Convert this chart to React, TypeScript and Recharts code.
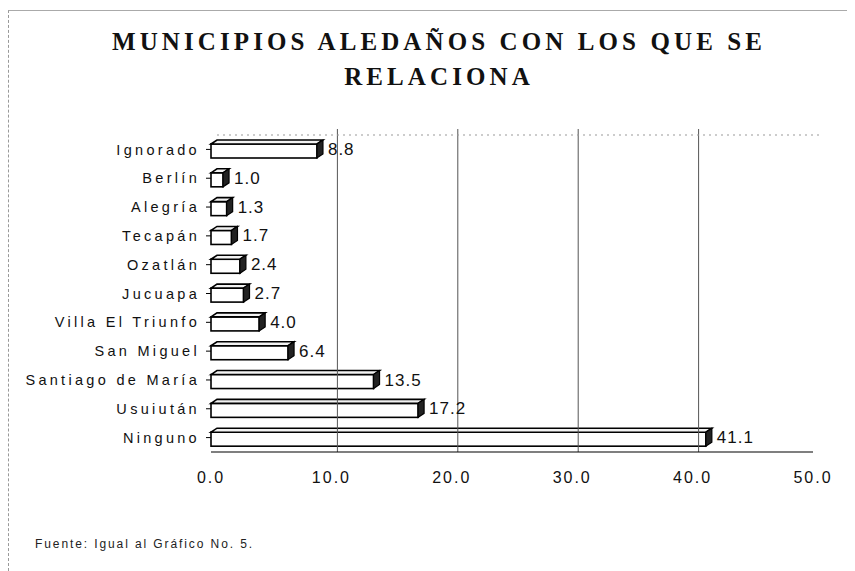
import { BarChart, Bar, XAxis, YAxis, LabelList, ReferenceLine } from 'recharts';

const categories = [
  'Ignorado',
  'Berlín',
  'Alegría',
  'Tecapán',
  'Ozatlán',
  'Jucuapa',
  'Villa El Triunfo',
  'San Miguel',
  'Santiago de María',
  'Usuiután',
  'Ninguno',
];
const values = [8.8, 1.0, 1.3, 1.7, 2.4, 2.7, 4.0, 6.4, 13.5, 17.2, 41.1];
const xTicks = [0, 10, 20, 30, 40, 50];
const gridValues = [10, 20, 30, 40];

const data = categories.map((name, i) => ({ name, value: values[i] }));

const DX = 6;
const DY = 4;
const SANS = '"Liberation Sans", Arial, sans-serif';

// bar drawn as a small 3D box: front face, top face and dark side
function Box3D(props: any) {
  const { x, y, width, height } = props;
  if (width == null || width <= 0) return null;
  const fy = y + DY;
  const h = height - DY;
  const top = `M${x},${fy} L${x + DX},${fy - DY} L${x + width + DX},${fy - DY} L${x + width},${fy} Z`;
  const side = `M${x + width},${fy} L${x + width + DX},${fy - DY} L${x + width + DX},${fy + h - DY} L${x + width},${fy + h} Z`;
  return (
    <g>
      <rect x={x} y={fy} width={width} height={h} fill="#fff" stroke="#000" strokeWidth={1.6} />
      <path d={top} fill="#f2f2f2" stroke="#000" strokeWidth={1.6} />
      <path d={side} fill="#222" stroke="#000" strokeWidth={1.2} />
    </g>
  );
}

function BackGridLine(props: any) {
  const { x1, y1, x2, y2 } = props;
  return <line x1={x1 + DX} y1={y1} x2={x2 + DX} y2={y2 - DY - 2} stroke="#555" strokeWidth={1} />;
}

function BackTopLine(props: any) {
  const { x1, y1, x2 } = props;
  return <line x1={x1 + DX} y1={y1} x2={x2 + DX} y2={y1} stroke="#999" strokeWidth={1} strokeDasharray="2 4" />;
}

export default function App() {
  return (
    <div style={{ position: 'relative', width: 855, height: 571, background: '#fff', marginLeft: -8, marginTop: -8 }}>
      <div style={{ position: 'absolute', left: 8, top: 10, width: 846, height: 560, borderLeft: '1px dashed #999', borderTop: '1px solid #aaa' }} />
      <div
        style={{
          position: 'absolute',
          left: 0,
          top: 24,
          width: 878,
          textAlign: 'center',
          fontFamily: '"Liberation Serif", "Times New Roman", serif',
          fontWeight: 'bold',
          fontSize: 25,
          letterSpacing: 4.1,
          lineHeight: '35px',
          color: '#111',
        }}
      >
        MUNICIPIOS ALEDAÑOS CON LOS QUE SE
        <br />
        RELACIONA
      </div>
      <div
        style={{
          position: 'absolute',
          left: 35,
          top: 537,
          fontFamily: SANS,
          fontSize: 12,
          letterSpacing: 1.9,
          color: '#222',
        }}
      >
        Fuente: Igual al Gráfico No. 5.
      </div>
      <div style={{ position: 'absolute', left: 0, top: 0 }}>
        <BarChart
          layout="vertical"
          width={855}
          height={571}
          data={data}
          margin={{ top: 135, right: 42, bottom: 89, left: 0 }}
          barSize={18}
        >
          <XAxis
            type="number"
            domain={[0, 50]}
            ticks={xTicks}
            tickFormatter={(v: number) => v.toFixed(1)}
            axisLine={{ stroke: '#000', strokeWidth: 1.2 }}
            tickLine={false}
            tick={{ fill: '#111', fontSize: 16, fontFamily: SANS, letterSpacing: 2 }}
            tickMargin={14}
            height={30}
          />
          <YAxis
            type="category"
            dataKey="name"
            width={211}
            axisLine={false}
            tickLine={{ stroke: '#000' }}
            tickSize={5}
            tick={{ fill: '#111', fontSize: 14.5, fontFamily: SANS, letterSpacing: 3.3 }}
            tickMargin={6}
          />
          {gridValues.map((g) => (
            <ReferenceLine key={g} x={g} stroke="#555" shape={BackGridLine} />
          ))}
          <ReferenceLine y={categories[0]} stroke="#999" shape={BackTopLine} position="start" />
          <Bar dataKey="value" shape={Box3D} isAnimationActive={false}>
            <LabelList
              dataKey="value"
              position="right"
              offset={11}
              formatter={(v: any) => Number(v).toFixed(1)}
              style={{ fill: '#111', fontSize: 17, fontFamily: SANS, letterSpacing: 1 }}
            />
          </Bar>
        </BarChart>
      </div>
    </div>
  );
}
